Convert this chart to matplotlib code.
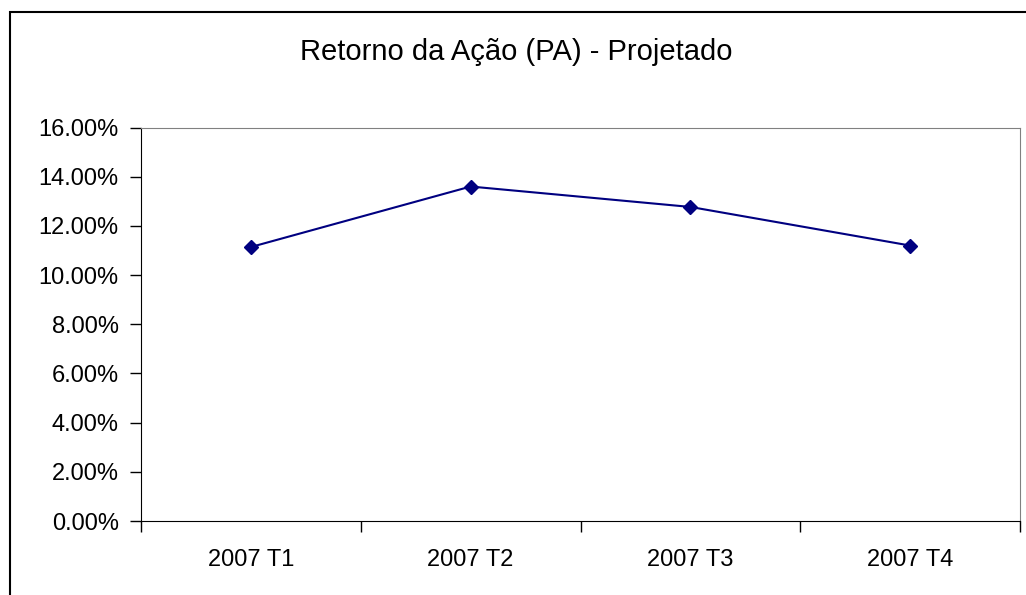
import matplotlib
matplotlib.use('Agg')
import matplotlib.pyplot as plt
from matplotlib.ticker import FuncFormatter, FixedLocator, NullFormatter
from matplotlib.patches import Rectangle

plt.rcParams['font.family'] = ['Liberation Sans', 'DejaVu Sans']

categories = ['2007 T1', '2007 T2', '2007 T3', '2007 T4']
retorno = [0.1114, 0.1360, 0.1277, 0.1120]

fig = plt.figure(figsize=(10.26, 5.95), dpi=100)
ax = fig.add_axes([141 / 1026, 1 - 521 / 595, (1020 - 141) / 1026, (521 - 127.5) / 595])

x = range(len(categories))
ax.plot(x, retorno, color='#000080', linewidth=1.5, marker='D', markersize=7)

ax.set_xlim(-0.5, len(categories) - 0.5)
ax.set_ylim(0, 0.16)
ax.set_yticks([i * 0.02 for i in range(9)])
ax.yaxis.set_major_formatter(FuncFormatter(lambda v, p: f'{v * 100:.2f}%'))

ax.set_xticks(list(x))
ax.set_xticklabels(categories)
ax.tick_params(axis='x', which='major', length=0, pad=20, labelsize=17)
ax.xaxis.set_minor_locator(FixedLocator([i - 0.5 for i in range(len(categories) + 1)]))
ax.xaxis.set_minor_formatter(NullFormatter())
ax.tick_params(axis='x', which='minor', length=8, width=1, direction='out')
ax.tick_params(axis='y', length=8, width=1, direction='out', labelsize=17, pad=8)

for s in ['top', 'right']:
    ax.spines[s].set_color('#808080')
ax.spines['left'].set_color('black')
ax.spines['bottom'].set_color('black')

fig.text(516 / 1026, 1 - 60 / 595, 'Retorno da Ação (PA) - Projetado', ha='center', va='baseline', fontsize=21)

# outer chart border (left and top visible)
fig.patches.append(Rectangle((10 / 1026, -0.1), 1.2, 1 - 12 / 595 + 0.1, transform=fig.transFigure,
                             fill=False, edgecolor='black', linewidth=1.5))

fig.savefig('out.png', dpi=100)
